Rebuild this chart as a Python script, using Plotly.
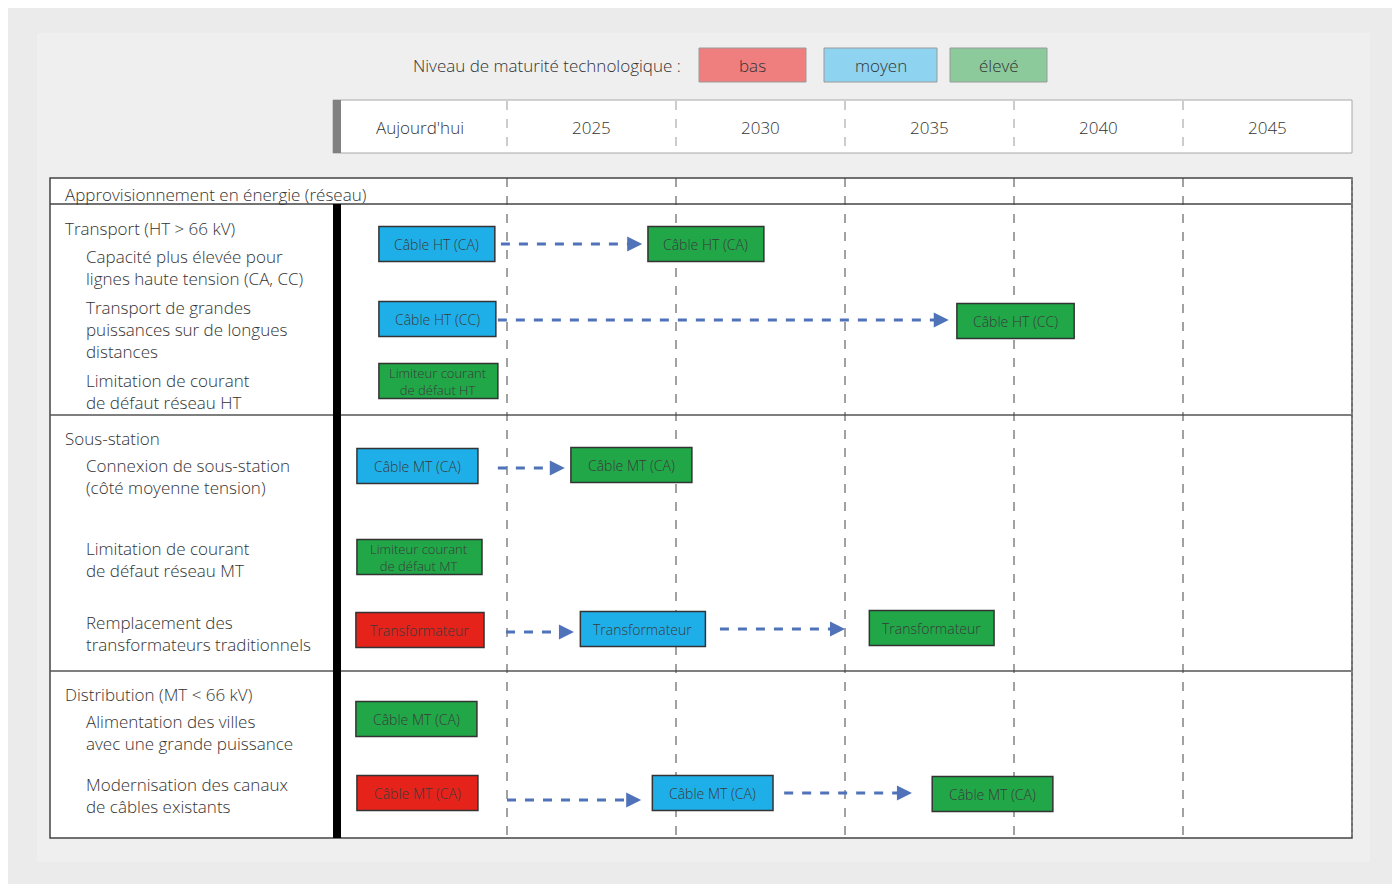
import plotly.graph_objects as go

# ---- data ----
col_labels = ["Aujourd'hui", "2025", "2030", "2035", "2040", "2045"]
col_bounds = [2020, 2025, 2030, 2035, 2040]  # dashed year separators
legend_names = ["bas", "moyen", "élevé"]
legend_colors = ["#ef7f7f", "#8ed3f0", "#8cca9c"]
level_colors = {"bas": "#e5231b", "moyen": "#1fafe8", "élevé": "#21a748"}

# boxes: (label, level, x_start_year, x_end_year, y_center_row)
box_labels = ["Câble HT (CA)", "Câble HT (CA)", "Câble HT (CC)", "Câble HT (CC)",
              "Limiteur courant<br>de défaut HT", "Câble MT (CA)", "Câble MT (CA)",
              "Limiteur courant<br>de défaut MT", "Transformateur", "Transformateur",
              "Transformateur", "Câble MT (CA)", "Câble MT (CA)", "Câble MT (CA)", "Câble MT (CA)"]
box_levels = ["moyen", "élevé", "moyen", "élevé", "élevé", "moyen", "élevé", "élevé",
              "bas", "moyen", "élevé", "élevé", "bas", "moyen", "élevé"]
box_x0 = [2016.21, 2024.17, 2016.21, 2033.31, 2016.21, 2015.56, 2021.89, 2015.56,
          2015.53, 2022.17, 2030.72, 2015.53, 2015.56, 2024.3, 2032.58]
box_x1 = [2019.64, 2027.6, 2019.67, 2036.78, 2019.73, 2019.14, 2025.47, 2019.26,
          2019.32, 2025.87, 2034.41, 2019.11, 2019.14, 2027.87, 2036.15]
box_y = [244, 244, 319, 321, 381, 466, 465, 557, 630, 629, 628, 719, 793, 793, 794]
box_h = 35

# arrows: (x_from_year, x_to_year, y)
arrow_x0 = [2019.82, 2019.73, 2019.73, 2019.97, 2026.3, 2020.0, 2028.2]
arrow_x1 = [2024.0, 2033.07, 2021.71, 2021.98, 2030.0, 2023.97, 2031.98]
arrow_y = [244, 320, 468, 632, 629, 800, 793]

row_texts = ["Approvisionnement en énergie (réseau)", "Transport (HT > 66 kV)",
             "Capacité plus élevée pour<br>lignes haute tension (CA, CC)",
             "Transport de grandes<br>puissances sur de longues<br>distances",
             "Limitation de courant<br>de défaut réseau HT", "Sous-station",
             "Connexion de sous-station<br>(côté moyenne tension)",
             "Limitation de courant<br>de défaut réseau MT",
             "Remplacement des<br>transformateurs traditionnels",
             "Distribution (MT < 66 kV)",
             "Alimentation des villes<br>avec une grande puissance",
             "Modernisation des canaux<br>de câbles existants"]
row_indent = [0, 0, 1, 1, 1, 0, 1, 1, 1, 0, 1, 1]
row_top = [181, 215, 243, 294, 367, 425, 452, 535, 609, 681, 708, 771]

# ---- geometry helpers ----
def X(px):
    return 2005 + px * 5 / 169

OFF = 8  # page margin of the browser
FONT = "Open Sans, Lato, sans-serif"
TXT = "#333333"
shapes, ann = [], []

def rect(x0, y0, x1, y1, fill, line="rgba(0,0,0,0)", w=1, layer="above"):
    shapes.append(dict(type="rect", xref="x", yref="y", x0=x0, x1=x1, y0=y0, y1=y1,
                       fillcolor=fill, line=dict(color=line, width=w), layer=layer))

def line(x0, y0, x1, y1, color, w=1, dash="solid"):
    shapes.append(dict(type="line", xref="x", yref="y", x0=x0, x1=x1, y0=y0, y1=y1,
                       line=dict(color=color, width=w, dash=dash)))

def text(x, y, t, size=17, color=TXT, xanchor="center", yanchor="middle", align="center"):
    ann.append(dict(x=x, y=y, xref="x", yref="y", text=t, showarrow=False,
                    xanchor=xanchor, yanchor=yanchor, align=align,
                    font=dict(family=FONT, size=size, color=color, weight=300)))

# inner panel
rect(X(37), 33, X(1370), 862, "#efefef", layer="below")

# legend
text(X(683), 65, "Niveau de maturité technologique :", xanchor="right")
leg_x = [(699, 806), (824, 937), (950, 1047)]
for (a, b), n, c in zip(leg_x, legend_names, legend_colors):
    rect(X(a), 48, X(b), 82, c, "#9a9a9a", 1)
    text(X((a + b) / 2), 65, n)

# header strip
rect(X(333), 100, X(1352), 153, "white", "#a8a8a8", 1)
rect(X(333), 100, X(341), 153, "#808080")
for b in col_bounds:
    line(b, 101, b, 152, "#999999", 1, "dash")
centers = [X(420)] + [b + 2.5 for b in col_bounds]
for c, l in zip(centers, col_labels):
    text(c, 127, l)

# table
rect(X(50), 178, X(1352), 838, "white", "#444444", 1.5, layer="below")
line(X(50), 204, X(1352), 204, "#444444", 1.5)
line(X(50), 415, X(1352), 415, "#555555", 1.5)
line(X(50), 671, X(1352), 671, "#555555", 1.5)
for b in col_bounds:
    line(b, 178, b, 838, "#444444", 1, "dash")
line(X(1352), 178, X(1352), 838, "#888888", 1.5, "dot")
rect(X(333), 204, X(341), 838, "black")

for t, ind, top in zip(row_texts, row_indent, row_top):
    text(X(63 + 21 * ind), top, t, xanchor="left", yanchor="top", align="left")

# arrows
for a, b, y in zip(arrow_x0, arrow_x1, arrow_y):
    line(a, y, b - 0.1, y, "#4f72b8", 3, "dash")
    ann.append(dict(x=b, y=y, ax=b - 0.25, ay=y, xref="x", yref="y", axref="x", ayref="y",
                    text="", showarrow=True, arrowhead=2, arrowsize=1, arrowwidth=3,
                    arrowcolor="#4f72b8"))

# boxes
for l, lev, a, b, y in zip(box_labels, box_levels, box_x0, box_x1, box_y):
    rect(a, y - box_h / 2, b, y + box_h / 2, level_colors[lev], "#333333", 1.5)
    small = "<br>" in l
    if small:
        l = l.replace("<br>", "<br><span style='line-height:1'></span>")
    text((a + b) / 2, y, l, size=13 if small else 14, color="#3a3a3a")

fig = go.Figure()
fig.add_trace(go.Scatter(x=[X(OFF), X(1400 - OFF)], y=[OFF, 892 - OFF], mode="markers",
                         marker=dict(opacity=0), hoverinfo="skip", showlegend=False))
fig.update_layout(width=1400 - 2 * OFF, height=892 - 2 * OFF,
                  margin=dict(l=0, r=0, t=0, b=0),
                  paper_bgcolor="#ebebeb", plot_bgcolor="#ebebeb",
                  shapes=shapes, annotations=ann,
                  xaxis=dict(range=[X(OFF), X(1400 - OFF)], visible=False, fixedrange=True),
                  yaxis=dict(range=[892 - OFF, OFF], visible=False, fixedrange=True))
fig.write_html("out.html")
